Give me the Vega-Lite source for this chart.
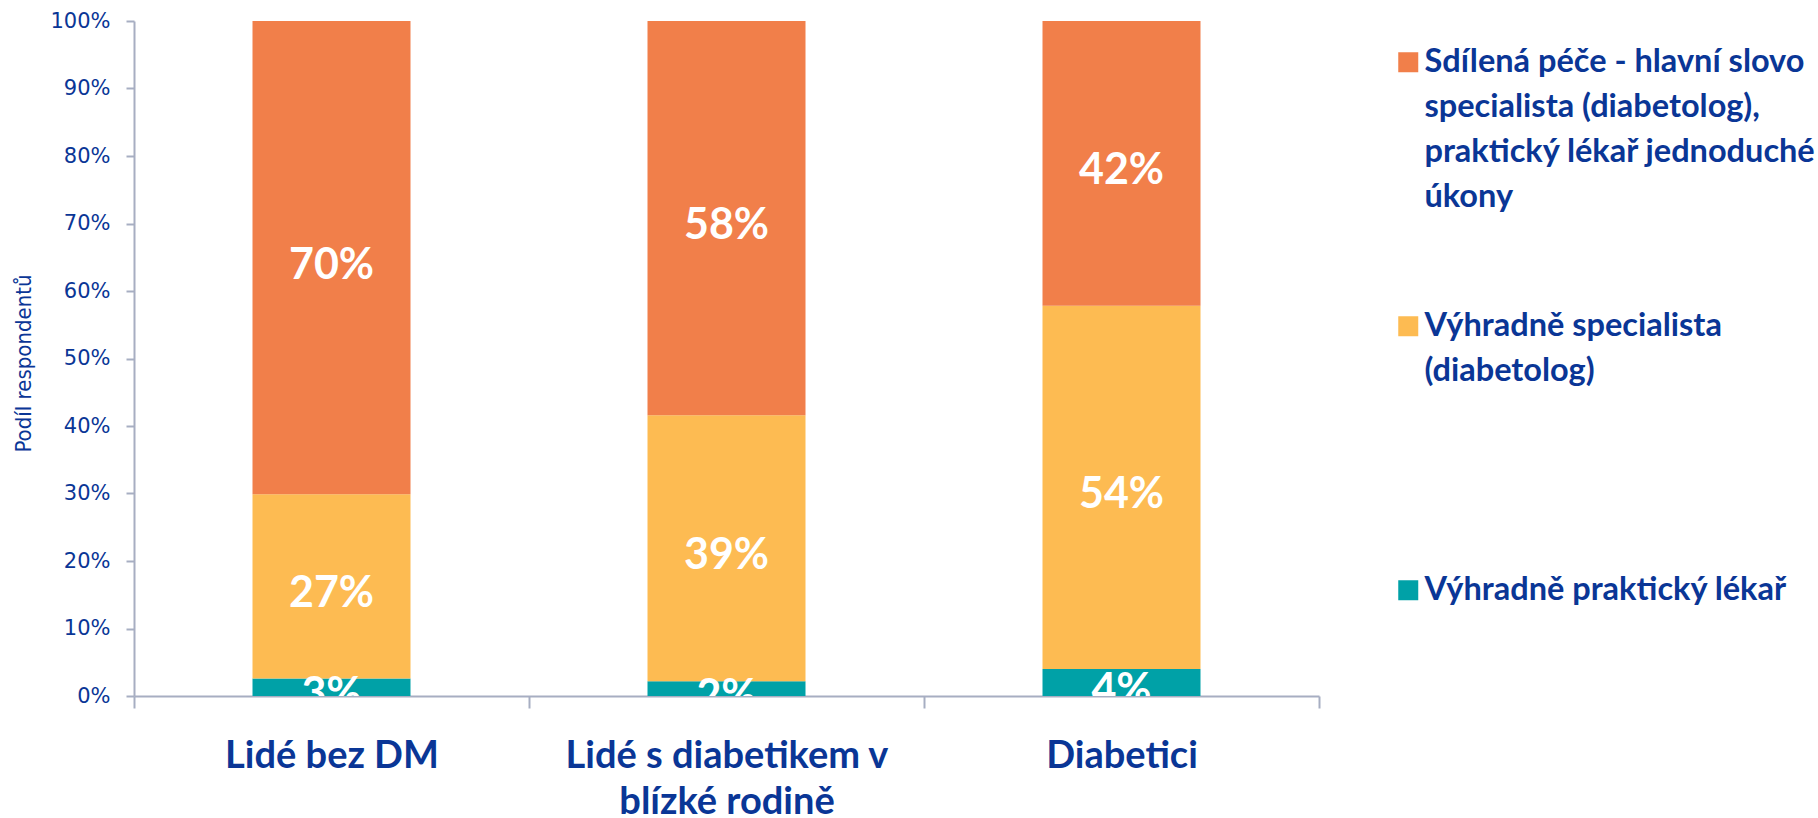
{
  "$schema": "https://vega.github.io/schema/vega-lite/v6.json",
  "autosize": {"type": "none"},
  "padding": {"left": 134, "top": 21, "right": 499, "bottom": 122},
  "width": 1185,
  "height": 675,
  "background": "white",
  "data": {
    "values": [
      {"skupina": "Lidé bez DM", "kategorie": "Výhradně praktický lékař", "poradi": 1, "podil": 0.026},
      {"skupina": "Lidé bez DM", "kategorie": "Výhradně specialista (diabetolog)", "poradi": 2, "podil": 0.273},
      {"skupina": "Lidé bez DM", "kategorie": "Sdílená péče - hlavní slovo specialista (diabetolog), praktický lékař jednoduché úkony", "poradi": 3, "podil": 0.701},
      {"skupina": "Lidé s diabetikem v blízké rodině", "kategorie": "Výhradně praktický lékař", "poradi": 1, "podil": 0.022},
      {"skupina": "Lidé s diabetikem v blízké rodině", "kategorie": "Výhradně specialista (diabetolog)", "poradi": 2, "podil": 0.394},
      {"skupina": "Lidé s diabetikem v blízké rodině", "kategorie": "Sdílená péče - hlavní slovo specialista (diabetolog), praktický lékař jednoduché úkony", "poradi": 3, "podil": 0.584},
      {"skupina": "Diabetici", "kategorie": "Výhradně praktický lékař", "poradi": 1, "podil": 0.04},
      {"skupina": "Diabetici", "kategorie": "Výhradně specialista (diabetolog)", "poradi": 2, "podil": 0.538},
      {"skupina": "Diabetici", "kategorie": "Sdílená péče - hlavní slovo specialista (diabetolog), praktický lékař jednoduché úkony", "poradi": 3, "podil": 0.422}
    ]
  },
  "encoding": {
    "x": {
      "field": "skupina",
      "type": "nominal",
      "sort": null,
      "scale": {"paddingInner": 0, "paddingOuter": 0},
      "axis": {
        "title": null,
        "labelAngle": 0,
        "labelFont": "Lato",
        "labelFontWeight": "bold",
        "labelFontSize": 38,
        "labelColor": "#0A3696",
        "labelLineHeight": 46,
        "labelBaseline": "top",
        "labelPadding": 29,
        "labelLimit": 450,
        "labelExpr": "datum.label == 'Lidé s diabetikem v blízké rodině' ? ['Lidé s diabetikem v', 'blízké rodině'] : datum.label",
        "domainColor": "#A7AEC2",
        "domainWidth": 2,
        "tickColor": "#A7AEC2",
        "tickWidth": 2,
        "tickSize": 12,
        "tickBand": "extent",
        "grid": false
      }
    },
    "y": {
      "field": "podil",
      "type": "quantitative",
      "stack": "zero",
      "scale": {"domain": [0, 1], "nice": false},
      "axis": {
        "title": "Podíl respondentů",
        "titleFont": "'DejaVu Sans Condensed', 'Roboto', sans-serif",
        "titleFontWeight": "normal",
        "titleFontSize": 22,
        "titleColor": "#0A3696",
        "titleX": -111,
        "titleY": 342,
        "titleAngle": -90,
        "titleAlign": "center",
        "titleBaseline": "middle",
        "values": [0, 0.1, 0.2, 0.3, 0.4, 0.5, 0.6, 0.7, 0.8, 0.9, 1],
        "format": ".0%",
        "labelFont": "DejaVu Sans",
        "labelFontSize": 21,
        "labelColor": "#0A3696",
        "labelPadding": 16,
        "domainColor": "#A7AEC2",
        "domainWidth": 2,
        "tickColor": "#A7AEC2",
        "tickWidth": 2,
        "tickSize": 8,
        "grid": false
      }
    }
  },
  "layer": [
    {
      "mark": {"type": "bar", "width": {"band": 0.4}},
      "encoding": {
        "color": {
          "field": "kategorie",
          "type": "nominal",
          "scale": {
            "domain": [
              "Sdílená péče - hlavní slovo specialista (diabetolog), praktický lékař jednoduché úkony",
              "Výhradně specialista (diabetolog)",
              "Výhradně praktický lékař"
            ],
            "range": ["#F17F4A", "#FDBB52", "#00A1A7"]
          },
          "legend": {
            "title": null,
            "orient": "none",
            "legendX": 1258,
            "legendY": 25,
            "padding": 0,
            "symbolType": "square",
            "symbolSize": 400,
            "symbolStrokeWidth": 0,
            "symbolOpacity": 1,
            "labelFont": "Lato",
            "labelFontWeight": "bold",
            "labelFontSize": 32.5,
            "labelColor": "#0A3696",
            "labelLimit": 600,
            "labelOffset": 0,
            "labelBaseline": "middle",
            "rowPadding": 96,
            "labelExpr": "datum.label == 'Výhradně praktický lékař' ? ['Výhradně praktický lékař', '', '', ''] : datum.label == 'Výhradně specialista (diabetolog)' ? ['Výhradně specialista', '(diabetolog)', '', ''] : ['Sdílená péče - hlavní slovo', 'specialista (diabetolog),', 'praktický lékař jednoduché', 'úkony']",
            "encoding": {"labels": {"lineHeight": {"value": 45}}}
          }
        },
        "order": {"field": "poradi", "type": "quantitative"}
      }
    },
    {
      "mark": {
        "type": "text",
        "font": "Lato",
        "fontWeight": "bold",
        "fontSize": 43,
        "color": "white",
        "baseline": "middle",
        "align": "center",
        "dy": 8,
        "clip": true
      },
      "encoding": {
        "y": {"field": "podil", "type": "quantitative", "stack": "zero", "bandPosition": 0.5},
        "text": {"field": "podil", "type": "quantitative", "format": ".0%"},
        "order": {"field": "poradi", "type": "quantitative"}
      }
    }
  ],
  "config": {
    "view": {"stroke": null},
    "style": {"guide-label": {"lineHeight": 45}}
  }
}
